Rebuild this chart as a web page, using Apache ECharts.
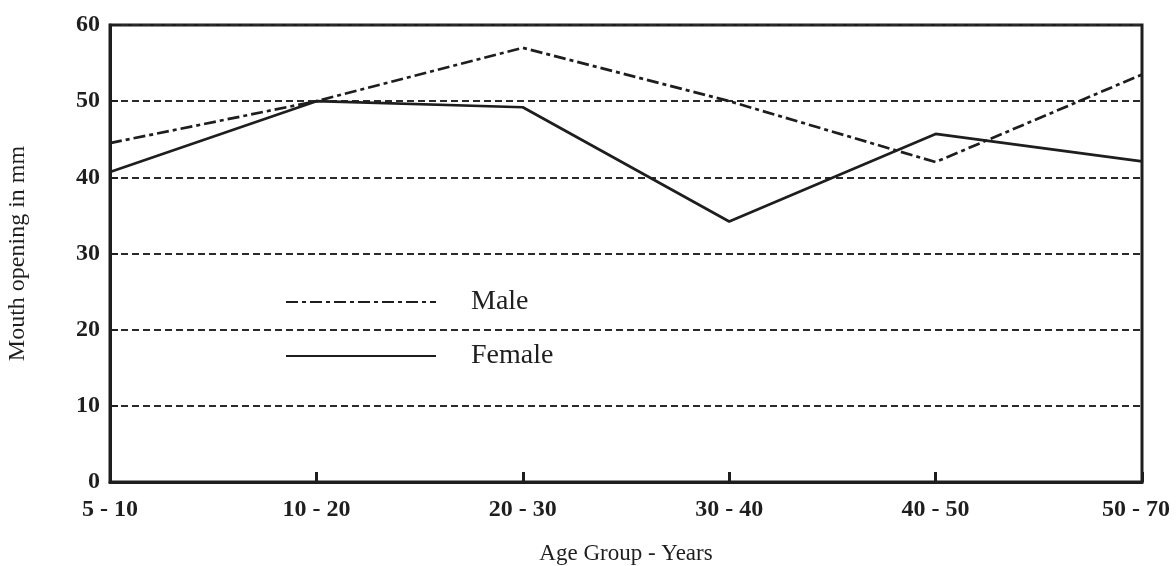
<!DOCTYPE html>
<html>
<head>
<meta charset="utf-8">
<script src="https://cdn.jsdelivr.net/npm/echarts@6/dist/echarts.min.js"></script>
<style>html,body{margin:0;padding:0;background:#fff}#c{width:1176px;height:566px}</style>
</head>
<body>
<div id="c"></div>
<script>
const categories = ['5 - 10', '10 - 20', '20 - 30', '30 - 40', '40 - 50', '50 - 70'];
const maleValues = [44.5, 50, 57, 50, 42, 53.5];
const femaleValues = [40.7, 50, 49.2, 34.2, 45.7, 42.1];
const yTicks = [0, 10, 20, 30, 40, 50, 60];

const ink = '#1e1e1e';
const serif = '"Liberation Serif", "DejaVu Serif", serif';
const labelFont = { fontFamily: serif, fontWeight: 'bold', fontSize: 24, color: ink };
const chart = echarts.init(document.getElementById('c'));
chart.setOption({
  backgroundColor: '#fff',
  animation: false,
  grid: { left: 110, right: 34, top: 25, bottom: 84, show: true, borderColor: ink, borderWidth: 3,
          backgroundColor: 'transparent', outerBoundsMode: 'none', containLabel: false },
  legend: {
    orient: 'vertical', left: 280, top: 283, itemWidth: 150, itemHeight: 26, itemGap: 26,
    data: ['Male', 'Female'],
    itemStyle: { color: 'transparent', borderWidth: 0, opacity: 0 },
    textStyle: { fontFamily: serif, fontSize: 28, color: ink, padding: [0, 0, 0, 30] }
  },
  xAxis: {
    type: 'category', data: categories, boundaryGap: false,
    name: 'Age Group - Years', nameLocation: 'middle', nameGap: 60,
    nameTextStyle: { fontFamily: serif, fontSize: 23, color: ink },
    axisLine: { lineStyle: { color: ink, width: 3 } },
    axisTick: { inside: true, length: 10, lineStyle: { color: ink, width: 3 } },
    axisLabel: Object.assign({}, labelFont, {
      margin: 16,
      formatter: function (v, i) { return i === categories.length - 1 ? '{last|' + v + '}' : v; },
      rich: { last: Object.assign({}, labelFont, { padding: [0, 12, 0, 0] }) }
    }),
    splitLine: { show: false }
  },
  yAxis: {
    type: 'value', min: yTicks[0], max: yTicks[yTicks.length - 1], interval: 10,
    name: 'Mouth opening in mm', nameLocation: 'middle', nameGap: 80,
    nameTextStyle: { fontFamily: serif, fontSize: 24, color: ink },
    axisLine: { show: true, lineStyle: { color: ink, width: 3 } },
    axisTick: { show: true, inside: true, length: 8, lineStyle: { color: ink, width: 2 } },
    axisLabel: Object.assign({}, labelFont, { margin: 10 }),
    splitLine: { show: true, lineStyle: { color: '#2a2a2a', width: 2, type: [7, 4] } }
  },
  series: [
    { name: 'Male', type: 'line', data: maleValues, symbol: 'none', color: ink,
      lineStyle: { color: ink, width: 2.7, type: [12, 4, 4, 4] } },
    { name: 'Female', type: 'line', data: femaleValues, symbol: 'none', color: ink,
      lineStyle: { color: ink, width: 2.7, type: 'solid' } }
  ]
});
</script>
</body>
</html>
